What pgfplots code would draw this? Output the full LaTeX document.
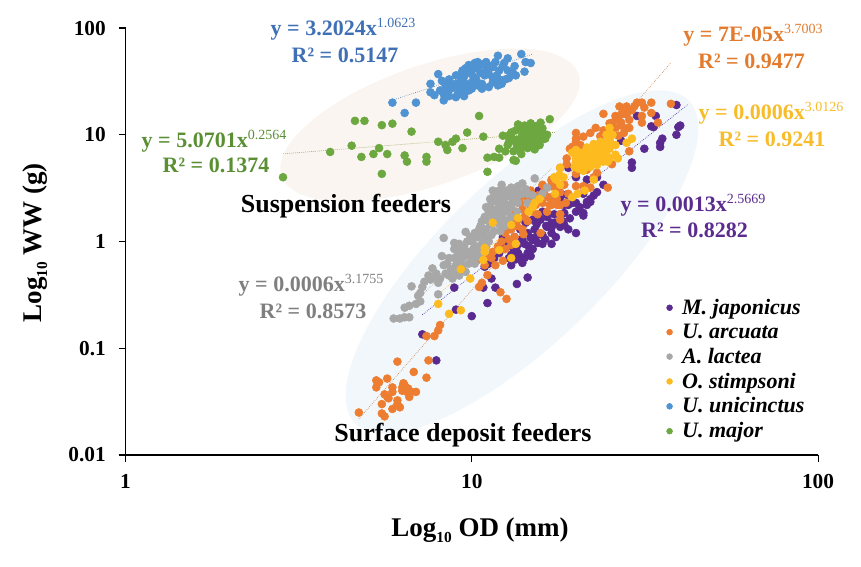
\documentclass[border=0pt]{standalone}
\usepackage{pgfplots}
\usepackage{fontspec}
\setmainfont{Liberation Serif}
\pgfplotsset{compat=1.18}
\definecolor{cpur}{HTML}{5B2A91}
\definecolor{cora}{HTML}{ED7D31}
\definecolor{cgra}{HTML}{A8A8A8}
\definecolor{cyel}{HTML}{FDBB1F}
\definecolor{cblu}{HTML}{4F93D2}
\definecolor{cgre}{HTML}{6CA83F}
\definecolor{tblu}{HTML}{3F70B6}
\definecolor{tgre}{HTML}{5B8F34}
\definecolor{tora}{HTML}{E37B2E}
\definecolor{tyel}{HTML}{F7BC28}
\definecolor{tpur}{HTML}{5B2C8F}
\definecolor{tgra}{HTML}{7F7F7F}
\definecolor{ellp}{HTML}{FAF5F1}
\definecolor{ellb}{HTML}{F1F7FA}
\newcommand{\eqn}[3]{\fontsize{16.5pt}{20pt}\selectfont\bfseries\color{#1} y = #2x\raisebox{6pt}{\fontsize{10.5pt}{12pt}\selectfont\mdseries #3}}
\newcommand{\rsq}[2]{\fontsize{16.5pt}{20pt}\selectfont\bfseries\color{#1} R² = #2}
\begin{document}
\begin{tikzpicture}[x=0.75pt,y=-0.75pt]
\path[use as bounding box] (0,0) rectangle (861,567);
\fill[rotate around={19:(430,125)},fill=ellp] (430,125) ellipse [x radius=157, y radius=60];
\fill[rotate around={44:(522,262)},fill=ellb] (522,262) ellipse [x radius=232, y radius=82];
\begin{axis}[at={(94.125pt,-341.25pt)},anchor=south west,scale only axis,
  width=519.4pt,height=320.25pt,
  xmode=log,ymode=log,xmin=1,xmax=100,ymin=0.01,ymax=100,
  axis lines=left,axis line style={-,line width=0.8pt},
  xtick={1,10,100},xticklabels={1,10,100},
  ytick={0.01,0.1,1,10,100},yticklabels={0.01,0.1,1,10,100},
  xminorticks=false,yminorticks=false,
  tick align=outside,major tick length=5.25pt,tick style={black,line width=0.8pt},
  ticklabel style={font=\fontsize{16pt}{18pt}\selectfont\bfseries},
  xticklabel style={yshift=-6pt},yticklabel style={xshift=-6pt},
  clip=false,
  xlabel={Log\raisebox{-4.5pt}{\fontsize{11.5pt}{12pt}\selectfont 10} OD (mm)},
  ylabel={Log\raisebox{-4.5pt}{\fontsize{11.5pt}{12pt}\selectfont 10} WW (g)},
  every axis x label/.style={at={(axis description cs:0.512,-0.176)},anchor=center,font=\fontsize{20.25pt}{22pt}\selectfont\bfseries},
  every axis y label/.style={at={(axis description cs:-0.131,0.497)},anchor=center,rotate=90,font=\fontsize{20.25pt}{22pt}\selectfont\bfseries},
  every axis plot/.append style={only marks,mark=*,mark size=3pt,mark options={draw=none}},
  legend style={at={(axis description cs:0.781,0.372)},anchor=north west,draw=none,fill=none,
    font=\fontsize{16.5pt}{18pt}\selectfont\bfseries\itshape,
    /tikz/row sep=1.7pt,inner sep=0pt,
    /tikz/every odd column/.append style={column sep=5.25pt}},
  legend cell align=left,
  legend image post style={mark size=2.2pt},
]
\addplot[cpur,mark options={fill=cpur}] coordinates {
(39,19)(34,15)(30,15)(33,12)(33.5,11.8)(40,12.2)(39.5,11.8)(39,10)(35.5,9.2)(35,8.4)(35,7.7)(31.5,7.4)(29,5.5)(29,4.9)(27,8.8)
(23,4)(21.5,3.8)(20,4)(19,4.9)(23,2.9)(22,2.5)(21.5,2.35)(21.5,2.2)(20,2.3)(21,2.8)(20,1.9)(21,1.75)(19,2.2)(19.5,2.3)(18.5,1.85)(16.5,1.7)(15.8,1.6)(17.7,1.5)(17,1.5)(18.5,1.43)(16.4,1.4)
(20,1.2)(17,.95)(16.5,1.37)(15.5,.97)(15,1.03)(17.5,1.1)(17,1.2)(18,1.37)(17.4,1.5)(21,1.85)(22,2.35)(15.6,1.67)(14.8,1.08)(14,.63)(13.8,.72)(12.8,.7)(12.5,.87)(12.3,1.1)(14.5,.78)(13.6,.78)(14.8,.73)(14.5,.46)(13.5,.4)(11.7,.37)(11.4,.45)(10.8,.37)(11.1,.265)(10,.2)(9,.23)(8.9,.37)(7.2,.135)(7.9,.077)(10,.74)(10.9,.58)(11.5,1.9)(15.6,3)(13.3,1.1)(13.8,1.3)(14.3,1.5)(15.2,1.3)(16,1.15)(15.4,1.45)(13.2,.85)(14.2,.95)(15,.85)(16,.95)(18.5,2.2)(14.5,1.2)(13,.6)
(13.5,.9)(14,1.05)(14.6,.9)(15.3,1.1)(16.3,1.05)(17,1.35)(18.3,1.55)(19.2,1.65)(19,1.3)(13,.75)(13.4,.68)(14.2,.7)(12.6,1)(15,1.6)(16,1.9)(17.3,1.8)(20.5,2.1)(22.5,2.7)(12,.78)(11.6,.7)(11.2,.62)(18,2.5)(18.8,2.75)(24,3.4)
};
\addlegendentry{M. japonicus}
\addplot[cora,mark options={fill=cora}] coordinates {
(4.72,.025)(5.5,.0245)(5.6,.023)(5.5,.03)(5.9,.027)(6.2,.028)(6.1,.03)(6.1,.0325)(5.7,.035)(5.75,.034)(5.6,.037)(5.9,.043)(5.9,.039)(5.3,.043)(5.3,.05)(5.4,.048)(5.7,.052)(6.3,.043)(6.4,.045)(6.3,.04)(6.5,.039)(6.6,.035)(6.55,.042)(6.7,.039)(6.9,.039)(6.8,.06)(7.4,.053)(6.1,.075)(7.5,.077)(7.4,.13)(7.8,.13)(8,.147)(8.1,.165)(6.45,.041)(6.35,.047)
(12.1,.335)(12.6,.29)(11.1,.485)(10.7,.41)(10.5,.375)(11.7,.6)(12.3,.66)(10.2,.66)(10,.67)(10.5,.68)(11,.72)(10.9,.6)(11.4,.7)
(12.5,.85)(13,.93)(12.8,1.05)(13.3,1.1)(12.5,1.2)(13,1.3)(13.5,1.4)(14,1.3)(13.6,1.6)(14.2,1.7)(14.5,1.55)(14,2)(14.8,2.1)(15.5,1.8)(15,2.4)(16,2.3)(16.5,1.9)(15.5,2.7)(16.2,3)(17,2.6)(17.5,3.2)(18,2.9)(18.5,3.4)(17,3.7)(16,3.4)(19,2.8)(20,3.3)(21,3.3)(22,3.2)(22.5,4)(21.5,4.7)(20,4.3)(20,5.5)(18,2.2)(14,2.7)(14.8,3)(18,1.8)(18,1.6)(15.8,1.2)(14.1,1.17)(11.5,.8)(11.9,.9)(15,1.9)(15.3,2.2)(16.6,2.6)(13.8,2.3)(14.5,2.5)(16.8,2.2)(17.6,2.5)(18.7,2.3)(13,1.6)(13.4,1.9)(12.2,1)
(24.7,3.2)(23,4.4)(28.5,7)(25.4,5.3)(31,20)(33,20)(30,20)(28,18.4)(26.7,18.4)(29,17)(37.6,19.5)(24,15.7)(33,16)(31,15)(31,13)(34.5,13)(28.5,11.6)(28,15.5)(27,15.5)(26,15)(25.5,13)(25,12.8)(27,13)(26,11.6)(27,12.2)(22.8,11.6)(24,11)(24.7,10.5)(20,10.4)(20,9.2)(20,8.6)(19.5,7.7)(19.2,7.4)(18.8,6)(18.8,5.3)(18,4.9)(17,3.8)(17.7,3.4)(17,3.3)(14.8,2.9)(17,2.2)(17.7,2.2)(18,1.8)
(27.5,17)(28.5,13.8)(26.5,13.8)(29.5,18.5)(31.5,18)(28,11.5)(27.5,10.4)(26.5,9.8)(22,10.4)(23.5,9.7)(21,9.6)(20.6,8)
};
\addlegendentry{U. arcuata}
\addplot[cgra,mark options={fill=cgra}] coordinates {
(5.95,.19)(6.2,.19)(6.4,.195)(6.6,.195)(6.4,.24)(6.6,.25)(6.9,.26)(7.1,.275)(7,.31)(7.2,.375)(6.7,.38)(8,.32)(7.5,.48)(7.7,.56)(8,.41)(8.2,.73)(8.3,1.08)(8.9,.97)(9.6,1.23)(7.1,.33)(7.3,.42)(7.6,.44)(7.8,.46)
(8.4,.5)(8.7,.55)(8.8,.45)(9,.6)(9.3,.65)(8.5,.62)(8.3,.6)(9.1,.75)(9.5,.72)(9.8,.8)(10,.7)(9.5,.9)(10,1)(10.3,.9)(10.6,.85)(10.4,1.1)(10.8,1.15)(11,1.3)(11.4,1.15)(9.9,1.1)(9.2,.85)(8.9,.7)(8.6,.7)(8.1,.45)(7.9,.5)(9.1,.58)(10.2,.62)(10.5,.72)(11,.9)(11.2,1)(11,1.6)(11.2,1.9)(11.5,2)(11.8,1.7)(12,1.45)(11,2.1)(11.6,2.4)(12,2.2)(12.2,1.9)(12.4,2.5)(12.7,2.2)(12.9,2.7)(13.2,2.4)(13.6,2.9)(14,3.5)(12,3)(12.2,2.7)(11.3,2.5)(11.6,2.7)(12.6,3)(13,3.2)(13.4,3)(14.3,3.1)(15,2.7)(16,2.8)(16.5,3.2)(13.5,1.9)(13,1.7)(12.5,1.4)(11.4,2.35)(11.1,2.05)(12,2.5)(13.1,2.5)(13.6,2.3)(15.2,3.9)(14.5,2.3)(10.6,1.4)(10.9,1.7)
(9.2,.95)(9.7,1)(10.2,1.2)(10.5,1.3)(10.7,1.55)(10.3,.78)(10.8,1.05)(11.3,1.45)(11.6,1.25)(11.5,1.75)(11.8,2)(12.3,1.65)(12.7,1.9)(13,2.1)(12.1,1.25)(12.7,1.55)(13.5,2.6)(14,2.8)(14.5,2.8)(12.2,3.4)(11.5,3)(13.6,3.3)
(8.6,.48)(9,.52)(9.4,.58)(9.8,.62)(9.6,.52)(9.2,.48)(8.9,.85)(9.4,.8)(10.1,.85)(10.7,.95)(11,1.1)(11.6,1.5)(12,1.7)(12.4,2.2)
};
\addlegendentry{A. lactea}
\addplot[cyel,mark options={fill=cyel}] coordinates {
(25,11.6)(26.4,6)(24.7,5.6)(22.8,5.5)(29,9.2)(28,8.4)(22.5,3.8)(21.2,3)(20.2,2.8)(19.5,2.6)(18.4,4)(17.5,3.8)(17.3,4)(18,4.9)(15.7,2.5)(15.2,2.3)(17.4,2.8)(18,3.4)(17.9,4.2)
(11.5,1.5)(13,1.43)(13.6,1.66)(10.9,.87)(10.9,.8)(12,.83)(10.8,.67)(13,.7)(9.3,.55)(9.9,.45)(8,.26)(8.6,.21)(9.3,.227)(13.4,.95)(14.6,1.9)(15,2.1)
(19.5,6.8)(20,6)(20.5,5.7)(21,5.2)(21.5,5.8)(22,6.3)(22.5,7)(23,6.5)(23.5,7.5)(24,8)(24.5,8.5)(25,9)(25.5,10)(24.5,10)(23.5,8.6)(22.5,8.2)(21.5,7.6)(21,6.8)(20.5,6.8)(20,7.2)(19.8,5)(20.3,4.8)(21,4.6)(22,5)(23,5.2)(24,5.6)(25,6)(26,6.5)(24,6.8)(25,7.4)(26,8)(22,5.6)(23,6)(21,5.9)(20,5.4)(23,7.2)(24,7.4)(22,7)(24.6,6.3)(25.3,8.2)(21.3,4.9)(22.6,5.9)(23.4,6.2)(21.6,6.6)
};
\addlegendentry{O. stimpsoni}
\addplot[cblu,mark options={fill=cblu}] coordinates {
(5.9,20)(6.9,20)(6.4,16)(7.6,30)(8,37)(7.6,25)(7.8,23.5)(8.3,21)(8.3,24)(8.1,26)(8.5,25)(8.7,27)(8.4,29)(8.2,32)(8.6,33)(9,22.5)(9.1,24)(9.3,25)(9.5,23)(9,30)(9.2,28)(9.4,27)(9.3,32)(9,36)(9.5,35)(9.6,30)(9.8,26)(9.7,38)(10,40)(9.4,40)(10.2,42)(10.5,44)(10.8,46)(11,40)(11.2,37)(10.3,33)(10.7,30)(10.4,29)(10.7,27)(11.2,28)(11.5,34)(11.8,36)(11.9,29)(12.2,30)(12,33)(11.5,43)(11.9,55)(12.3,44)(12.7,40)(12.5,33)(13,36)(12.7,52)(11.7,48)(13.9,57)(14.3,48)(14.8,47)(14.2,39)(13.3,44)(13.1,39)(10,27)(9.8,45)(10.4,48)(11,48)(12.4,47)(10.1,35)(10.9,36)
(9.6,42)(10.2,47)(9.3,37)(10,31)(11.5,31)(12,40)(8.9,28)(8.7,30)(12.8,34)(10.6,38)(11.3,44)(9.5,28)(8.6,23)(13.4,36)
};
\addlegendentry{U. unicinctus}
\addplot[cgre,mark options={fill=cgre}] coordinates {
(2.85,4)(3.9,6.9)(4.5,7.9)(4.8,6.2)(5.2,6.6)(5.4,7.5)(5.7,6.6)(5.5,4.3)(6.4,6.4)(6.5,5.6)(7.4,5.6)(7.4,6.2)(8,8.6)(8.4,8)(8.5,7.2)(8.8,8.6)(9,9.2)(9.4,7.5)(9.7,10.5)(4.6,13.5)(4.9,13.5)(5.5,12.3)(5.9,12.7)(6.7,10.7)
(10.5,15)(10.8,9.6)(11.1,4.5)(12.3,9.8)(11.1,6.1)(11.6,6.2)(12,6.1)(12,7.4)(12.7,8)(13.2,5.8)(13.4,5.7)(13.9,6.6)(16.8,14)(15.8,13)(15.6,11.6)(14.2,12.2)
(13,9.5)(13.5,9)(13,10.5)(13.4,11)(14,10)(14,11.5)(14.5,9)(14.5,10.5)(14.5,12)(15,10)(15,11)(15,9)(15.5,10)(15.5,8.5)(14,8)(14.5,7.5)(15,7.7)(16,9)(16,10.5)(16,11.5)(16.5,10)(14.8,12.8)(15.3,12)(13.5,8)(13.2,7)(12.8,8.5)(12.7,9.7)(14,9)(14.7,8.2)(15.4,9.2)
(13.6,12.5)(15.2,7.3)(13,8.8)(12.5,7)(13.8,7.2)(16.3,9.2)(15.7,8)(14.3,11)(15.7,9.6)(15.1,10.5)
};
\addlegendentry{U. major}
\addplot[forget plot,no marks,sharp plot,densely dotted,line width=0.5pt,cpur!80!blue] coordinates {(7.2,.206)(42,19.1)};
\addplot[forget plot,no marks,sharp plot,densely dotted,line width=0.5pt,cora!70!gray] coordinates {(4.72,.0218)(37.5,46.7)};
\addplot[forget plot,no marks,sharp plot,densely dotted,line width=0.5pt,cgra] coordinates {(6,.178)(17,4.85)};
\addplot[forget plot,no marks,sharp plot,densely dotted,line width=0.5pt,cyel] coordinates {(7.9,.304)(27,12.3)};
\addplot[forget plot,no marks,sharp plot,densely dotted,line width=0.5pt,cblu!70!gray] coordinates {(5.9,21.1)(15,56.9)};
\addplot[forget plot,no marks,sharp plot,densely dotted,line width=0.5pt,cgre!60!brown] coordinates {(2.85,6.63)(17.5,10.56)};
\end{axis}
\node at (343,29) {\eqn{tblu}{3.2024}{1.0623}};
\node at (345,55) {\rsq{tblu}{0.5147}};
\node at (214,141) {\eqn{tgre}{5.0701}{0.2564}};
\node at (216,165) {\rsq{tgre}{0.1374}};
\node at (753,35) {\eqn{tora}{7E-05}{3.7003}};
\node at (751.5,61) {\rsq{tora}{0.9477}};
\node at (771,113) {\eqn{tyel}{0.0006}{3.0126}};
\node at (772,139) {\rsq{tyel}{0.9241}};
\node at (693,205) {\eqn{tpur}{0.0013}{2.5669}};
\node at (694.5,230) {\rsq{tpur}{0.8282}};
\node at (311,285) {\eqn{tgra}{0.0006}{3.1755}};
\node at (313,311) {\rsq{tgra}{0.8573}};
\node[font=\fontsize{19.5pt}{22pt}\selectfont\bfseries] at (346,206) {Suspension feeders};
\node[font=\fontsize{19.5pt}{22pt}\selectfont\bfseries] at (463,435) {Surface deposit feeders};
\end{tikzpicture}
\end{document}
